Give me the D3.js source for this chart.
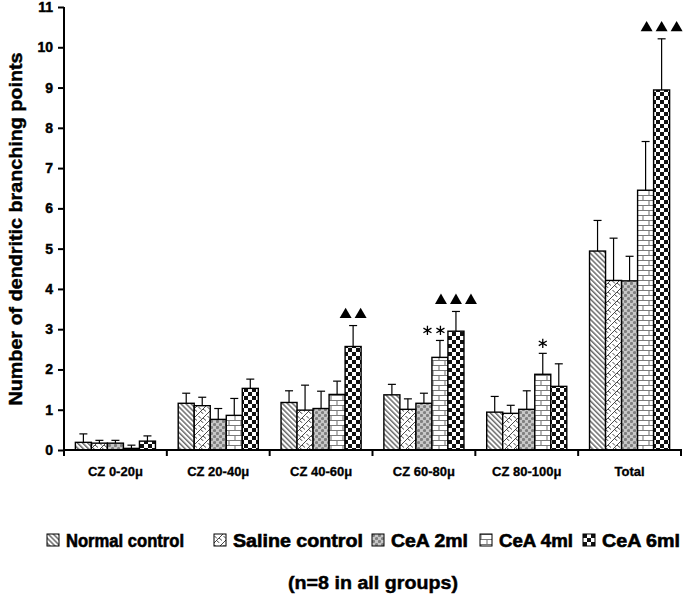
<!DOCTYPE html>
<html><head><meta charset="utf-8">
<script src="https://cdn.jsdelivr.net/npm/d3@7"></script>
<style>body{margin:0;background:#fff}svg{display:block}text{font-family:Arial,"Liberation Sans",sans-serif;font-weight:bold}</style>
</head><body>
<svg id="chart" width="687" height="602"></svg>
<script>
const categories = ["CZ 0-20μ","CZ 20-40μ","CZ 40-60μ","CZ 60-80μ","CZ 80-100μ","Total"];
const series = ["Normal control","Saline control","CeA 2ml","CeA 4ml","CeA 6ml"];
const normalMean = [0.19,1.16,1.18,1.37,0.94,4.94];
const salineMean = [0.17,1.10,0.99,1.01,0.91,4.21];
const cea2Mean   = [0.17,0.76,1.03,1.16,1.01,4.20];
const cea4Mean   = [0.04,0.86,1.38,2.30,1.88,6.45];
const cea6Mean   = [0.22,1.53,2.57,2.95,1.58,8.94];
const normalErr = [0.21,0.25,0.29,0.26,0.39,0.76];
const salineErr = [0.07,0.21,0.62,0.26,0.20,1.05];
const cea2Err   = [0.07,0.27,0.43,0.25,0.46,0.61];
const cea4Err   = [0.08,0.42,0.33,0.42,0.52,1.21];
const cea6Err   = [0.13,0.23,0.52,0.49,0.56,1.27];
const yTicks = [0,1,2,3,4,5,6,7,8,9,10,11];
const annotations = [
  {cat:"CZ 40-60μ", ser:"CeA 6ml", mark:"triangle", count:2},
  {cat:"CZ 60-80μ", ser:"CeA 4ml", mark:"asterisk", count:2},
  {cat:"CZ 60-80μ", ser:"CeA 6ml", mark:"triangle", count:3},
  {cat:"CZ 80-100μ", ser:"CeA 4ml", mark:"asterisk", count:1},
  {cat:"Total", ser:"CeA 6ml", mark:"triangle", count:3}
];
const yLabel = "Number of dendritic branching points";
const footnote = "(n=8 in all groups)";

const means = [normalMean, salineMean, cea2Mean, cea4Mean, cea6Mean];
const errs = [normalErr, salineErr, cea2Err, cea4Err, cea6Err];
const data = [];
categories.forEach((c,ci)=>series.forEach((s,si)=>data.push({cat:c, ser:s, si, v:means[si][ci], e:errs[si][ci]})));

const svg = d3.select("#chart");
const defs = svg.append("defs");
const p0 = defs.append("pattern").attr("id","pat0").attr("patternUnits","userSpaceOnUse").attr("width",3.6).attr("height",3.6).attr("patternTransform","rotate(-45)");
p0.append("rect").attr("width",3.6).attr("height",3.6).attr("fill","#fff");
p0.append("rect").attr("width",1.5).attr("height",3.6).attr("fill","#6a6a6a");
const p1 = defs.append("pattern").attr("id","pat1").attr("patternUnits","userSpaceOnUse").attr("width",9).attr("height",9);
p1.append("rect").attr("width",9).attr("height",9).attr("fill","#fff");
p1.append("path").attr("d","M0,9L9,0M-1,1L1,-1M8,10L10,8M2.5,6.5L5.5,9.0M5,4L8,6.5M0.5,2L3,4.5").attr("stroke","#333").attr("stroke-width",0.9).attr("fill","none");
const p2 = defs.append("pattern").attr("id","pat2").attr("patternUnits","userSpaceOnUse").attr("width",6).attr("height",6);
p2.append("rect").attr("width",6).attr("height",6).attr("fill","#c8c8c8");
[[1.5,1.5],[4.5,4.5]].forEach(([cx,cy])=>p2.append("circle").attr("cx",cx).attr("cy",cy).attr("r",1.6).attr("fill","#808080"));
const p3 = defs.append("pattern").attr("id","pat3").attr("patternUnits","userSpaceOnUse").attr("width",12).attr("height",10);
p3.append("rect").attr("width",12).attr("height",10).attr("fill","#fff");
p3.append("path").attr("d","M0,0.5H12M0,5.5H12M1,0.5V5.5M7,5.5V10.5").attr("stroke","#7a7a7a").attr("stroke-width",1.1).attr("fill","none");
const p4 = defs.append("pattern").attr("id","pat4").attr("patternUnits","userSpaceOnUse").attr("width",8).attr("height",8);
p4.append("rect").attr("width",8).attr("height",8).attr("fill","#fff");
p4.append("rect").attr("width",4).attr("height",4).attr("fill","#111");
p4.append("rect").attr("x",4).attr("y",4).attr("width",4).attr("height",4).attr("fill","#111");
const fillFor = si => `url(#pat${si})`;

const x0 = d3.scaleBand().domain(categories).range([64,681]).padding(0);
const x1 = d3.scaleBand().domain(series).range([0,x0.bandwidth()]).paddingInner(0).paddingOuter(0.71);
const y = d3.scaleLinear().domain([0,11]).range([450,7]);

const g = svg.append("g");
g.selectAll("rect.bar").data(data).join("rect").attr("class","bar")
  .attr("x",d=>x0(d.cat)+x1(d.ser)).attr("y",d=>y(d.v))
  .attr("width",x1.bandwidth()).attr("height",d=>y(0)-y(d.v))
  .attr("fill",d=>fillFor(d.si)).attr("stroke","#000").attr("stroke-width",1.4);
const eb = g.selectAll("g.err").data(data).join("g").attr("class","err");
eb.append("line").attr("x1",d=>x0(d.cat)+x1(d.ser)+x1.bandwidth()/2).attr("x2",d=>x0(d.cat)+x1(d.ser)+x1.bandwidth()/2)
  .attr("y1",d=>y(d.v)).attr("y2",d=>y(d.v+d.e)).attr("stroke","#000").attr("stroke-width",1.2);
eb.append("line").attr("x1",d=>x0(d.cat)+x1(d.ser)+x1.bandwidth()/2-4).attr("x2",d=>x0(d.cat)+x1(d.ser)+x1.bandwidth()/2+4)
  .attr("y1",d=>y(d.v+d.e)).attr("y2",d=>y(d.v+d.e)).attr("stroke","#000").attr("stroke-width",1.2);

const heavy = sel => sel.attr("stroke","#000").attr("stroke-width",0.45).attr("fill","#000");

const ya = svg.append("g").attr("transform","translate(64,0)")
  .call(d3.axisLeft(y).tickValues(yTicks).tickSize(6).tickPadding(5).tickFormat(d3.format("d")));
ya.select(".domain").attr("stroke","#000").attr("stroke-width",2).attr("d","M0,7V450");
ya.selectAll(".tick line").attr("stroke","#000").attr("stroke-width",2);
ya.selectAll(".tick text").attr("font-size",14).attr("font-weight","bold")
  .attr("font-family",'Arial,"Liberation Sans",sans-serif').call(heavy);

svg.append("line").attr("x1",63).attr("x2",682).attr("y1",y(0)).attr("y2",y(0)).attr("stroke","#000").attr("stroke-width",2.2);
const bounds = categories.map(c=>x0(c)).concat([x0(categories[categories.length-1])+x0.bandwidth()]);
svg.selectAll("line.xt").data(bounds).join("line").attr("class","xt")
  .attr("x1",d=>d).attr("x2",d=>d).attr("y1",y(0)).attr("y2",y(0)+6).attr("stroke","#000").attr("stroke-width",2);
svg.selectAll("text.xl").data(categories).join("text").attr("class","xl")
  .attr("x",d=>x0(d)+x0.bandwidth()/2).attr("y",476).attr("text-anchor","middle").attr("font-size",13)
  .text(d=>d).call(heavy).attr("stroke-width",0.3);

svg.append("text").attr("transform","translate(22,229) rotate(-90)").attr("text-anchor","middle")
  .attr("font-size",19).attr("textLength",353).attr("lengthAdjust","spacingAndGlyphs").text(yLabel).call(heavy);

const tri = d3.symbol().type(d3.symbolTriangle).size(62);
const ast = d3.symbol().type(d3.symbolAsterisk).size(60);
annotations.forEach(a=>{
  const d = data.find(k=>k.cat===a.cat && k.ser===a.ser);
  const cx = x0(a.cat)+x1(a.ser)+x1.bandwidth()/2;
  const top = y(d.v+d.e);
  const step = a.mark==="triangle" ? 15 : 13;
  for(let i=0;i<a.count;i++){
    const px = cx + (i-(a.count-1)/2)*step - (a.mark==="asterisk" && a.count>1 ? 6 : 0);
    if(a.mark==="triangle"){
      svg.append("path").attr("d",tri()).attr("transform",`translate(${px},${top-11})`).attr("fill","#000");
    } else {
      svg.append("path").attr("d",ast()).attr("transform",`translate(${px},${top-10})`).attr("fill","none").attr("stroke","#000").attr("stroke-width",1.3);
    }
  }
});

const legX = [47,214,372,480,583];
const legW = [118,130,77,74,78];
const leg = svg.selectAll("g.leg").data(series).join("g").attr("class","leg")
  .attr("transform",(d,i)=>`translate(${legX[i]},534)`);
leg.append("rect").attr("width",12).attr("height",12).attr("fill",(d,i)=>fillFor(i)).attr("stroke","#000").attr("stroke-width",1);
leg.append("text").attr("x",19).attr("y",13).attr("font-size",18)
  .attr("textLength",(d,i)=>legW[i]).attr("lengthAdjust","spacingAndGlyphs").text(d=>d).call(heavy).attr("stroke-width",0.6);

svg.append("text").attr("x",373).attr("y",589).attr("text-anchor","middle").attr("font-size",18)
  .attr("textLength",170).attr("lengthAdjust","spacingAndGlyphs").text(footnote).call(heavy);
</script>
</body></html>
